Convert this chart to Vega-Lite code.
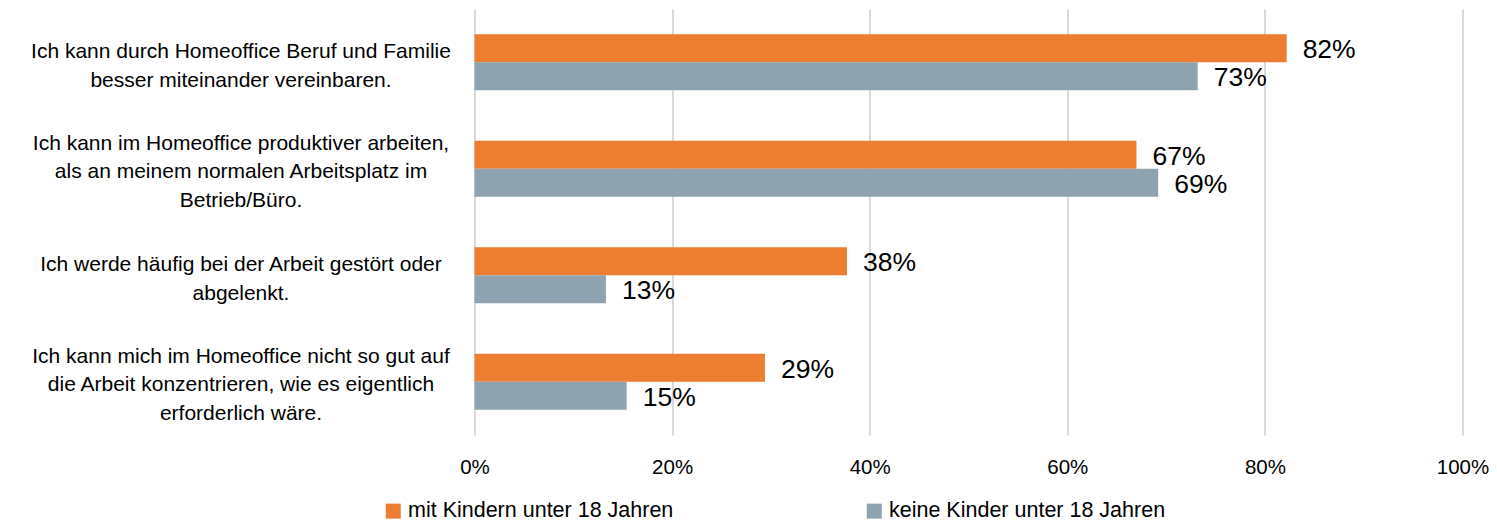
{
  "$schema": "https://vega.github.io/schema/vega-lite/v6.json",
  "autosize": {"type": "none"},
  "padding": {"left": 474.5, "top": 9, "right": 34.5, "bottom": 88},
  "width": 988,
  "height": 426,
  "config": {
    "font": "Liberation Sans",
    "view": {"stroke": null},
    "axis": {"labelFont": "Liberation Sans", "labelColor": "#000000"}
  },
  "data": {
    "values": [
      {"q": "Ich kann durch Homeoffice Beruf und Familie|besser miteinander vereinbaren.", "qo": 1, "group": "mit Kindern unter 18 Jahren", "go": 1, "value": 0.822},
      {"q": "Ich kann durch Homeoffice Beruf und Familie|besser miteinander vereinbaren.", "qo": 1, "group": "keine Kinder unter 18 Jahren", "go": 2, "value": 0.732},
      {"q": "Ich kann im Homeoffice produktiver arbeiten,|als an meinem normalen Arbeitsplatz im|Betrieb/Büro.", "qo": 2, "group": "mit Kindern unter 18 Jahren", "go": 1, "value": 0.670},
      {"q": "Ich kann im Homeoffice produktiver arbeiten,|als an meinem normalen Arbeitsplatz im|Betrieb/Büro.", "qo": 2, "group": "keine Kinder unter 18 Jahren", "go": 2, "value": 0.692},
      {"q": "Ich werde häufig bei der Arbeit gestört oder|abgelenkt.", "qo": 3, "group": "mit Kindern unter 18 Jahren", "go": 1, "value": 0.377},
      {"q": "Ich werde häufig bei der Arbeit gestört oder|abgelenkt.", "qo": 3, "group": "keine Kinder unter 18 Jahren", "go": 2, "value": 0.133},
      {"q": "Ich kann mich im Homeoffice nicht so gut auf|die Arbeit konzentrieren, wie es eigentlich|erforderlich wäre.", "qo": 4, "group": "mit Kindern unter 18 Jahren", "go": 1, "value": 0.294},
      {"q": "Ich kann mich im Homeoffice nicht so gut auf|die Arbeit konzentrieren, wie es eigentlich|erforderlich wäre.", "qo": 4, "group": "keine Kinder unter 18 Jahren", "go": 2, "value": 0.154}
    ]
  },
  "encoding": {
    "y": {
      "field": "q", "type": "nominal",
      "sort": {"field": "qo", "order": "ascending"},
      "scale": {"paddingInner": 0.474, "paddingOuter": 0.237},
      "axis": {
        "title": null, "ticks": false, "domain": false, "grid": false,
        "labelExpr": "split(datum.label, '|')",
        "labelAlign": "center", "labelBaseline": "middle",
        "labelOffset": {"condition": {"test": "length(split(datum.value, '|')) > 2", "value": -25}, "value": -10},
        "labelPadding": 234, "labelFontSize": 21, "labelLineHeight": 28.5,
        "labelLimit": 500
      }
    },
    "yOffset": {"field": "go", "type": "ordinal", "sort": "ascending"},
    "x": {
      "field": "value", "type": "quantitative",
      "scale": {"domain": [0, 1], "nice": false},
      "axis": {
        "title": null, "format": ".0%", "values": [0, 0.2, 0.4, 0.6, 0.8, 1],
        "ticks": false, "domain": false, "grid": true, "labelOverlap": false, "labelFlush": false,
        "gridColor": "#d9d9d9", "gridWidth": 2,
        "labelFontSize": 20.5, "labelPadding": 22
      }
    }
  },
  "layer": [
    {
      "mark": {"type": "bar"},
      "encoding": {
        "color": {
          "field": "group", "type": "nominal",
          "scale": {"domain": ["mit Kindern unter 18 Jahren", "keine Kinder unter 18 Jahren"], "range": ["#ED7D31", "#8EA3AF"]},
          "legend": {
            "title": null, "orient": "none", "direction": "horizontal",
            "legendX": -92, "legendY": 491,
            "symbolType": "square", "symbolSize": 225, "symbolStrokeWidth": 0,
            "labelFontSize": 21.5, "labelFont": "Liberation Sans", "labelColor": "#000000",
            "labelOffset": 4, "columnPadding": 190, "labelLimit": 400
          }
        }
      }
    },
    {
      "mark": {"type": "text", "align": "left", "baseline": "middle", "dx": 16, "dy": 2, "fontSize": 26.5, "color": "#000000"},
      "encoding": {
        "text": {"field": "value", "type": "quantitative", "format": ".0%"}
      }
    }
  ]
}
